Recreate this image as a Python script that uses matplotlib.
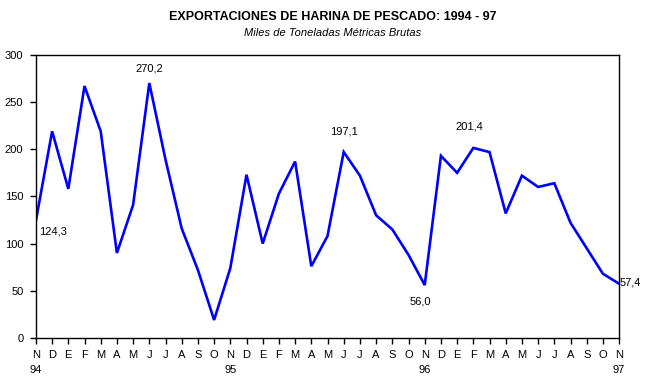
import numpy as np
import matplotlib
matplotlib.use("Agg")
import matplotlib.pyplot as plt

matplotlib.rcParams.update({
    'font.family': ['Liberation Sans', 'DejaVu Sans'],
    'font.size': 8,
})

months = ['N', 'D', 'E', 'F', 'M', 'A', 'M', 'J', 'J', 'A', 'S', 'O',
          'N', 'D', 'E', 'F', 'M', 'A', 'M', 'J', 'J', 'A', 'S', 'O',
          'N', 'D', 'E', 'F', 'M', 'A', 'M', 'J', 'J', 'A', 'S', 'O', 'N']
years = {0: '94', 12: '95', 24: '96', 36: '97'}
exports = [124.3, 219, 158, 267, 219, 90, 141, 270.2, 189, 116, 72, 19,
           74, 173, 100, 153, 187, 76, 108, 197.1, 172, 130, 115, 88,
           56.0, 193, 175, 201.4, 197, 132, 172, 160, 164, 122, 95, 68, 57.4]
# labelled points: index, text offset (pixels)
labels = {0: (17, -11), 7: (0, 15), 19: (0, 20), 27: (-4, 21), 24: (-4, -16), 36: (11, 1)}

fig = plt.figure(figsize=(6.65, 3.84), dpi=100)
ax = fig.add_axes([0.054, 0.120, 0.877, 0.737])

x = np.arange(len(exports))
ax.plot(x, exports, color='#0000ff', linewidth=1.9, solid_joinstyle='miter')

for i, (dx, dy) in labels.items():
    txt = ('%.1f' % exports[i]).replace('.', ',')
    ax.annotate(txt, (x[i], exports[i]), xytext=(dx, dy), textcoords='offset pixels',
                ha='center', va='center', fontsize=8)

ax.set_xlim(0, len(exports) - 1)
ax.set_ylim(0, 300)
ax.set_yticks(np.arange(0, 301, 50))
ax.set_xticks(x)
ax.set_xticklabels([m + ('\n' + years[i] if i in years else '') for i, m in enumerate(months)],
                   linespacing=1.6)
ax.tick_params(direction='out', length=4, width=1, pad=5)
for s in ax.spines.values():
    s.set_linewidth(1)

fig.text(0.5, 0.955, 'EXPORTACIONES DE HARINA DE PESCADO: 1994 - 97', ha='center',
         va='center', fontsize=9, fontweight='bold')
fig.text(0.5, 0.915, 'Miles de Toneladas Métricas Brutas', ha='center', va='center',
         fontsize=8, style='italic')

fig.savefig('out.png', dpi=100)
